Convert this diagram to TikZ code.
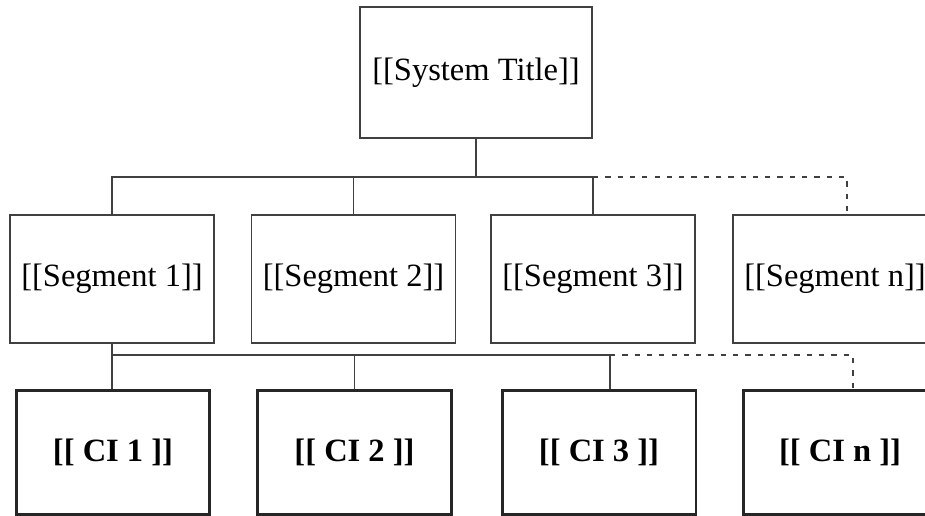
\documentclass[tikz,border=0pt]{standalone}
\usepackage{fontspec}
\setmainfont{Liberation Serif}
\begin{document}
\begin{tikzpicture}[x=0.02cm,y=-0.02cm,
	segbox/.style={draw=black!75,line width=0.7pt,minimum width=4.08cm,minimum height=2.56cm,inner sep=0pt,font=\fontsize{18.5}{22}\selectfont},
	cibox/.style={draw=black!85,line width=1.7pt,minimum width=3.88cm,minimum height=2.5cm,inner sep=0pt,font=\fontsize{18.5}{22}\selectfont\bfseries},
	link/.style={draw=black!75,line width=0.7pt},
	later/.style={link,dash pattern=on 3pt off 4pt}]
		\useasboundingbox (0,0) rectangle (925,516);
		\clip (0,0) rectangle (925,516);
		% set up nodes
		\node[segbox,minimum width=4.64cm,minimum height=2.62cm] (title) at (476,72.5) {[[System Title]]};
		\node[segbox] (seg1) at (112,279) {[[Segment 1]]};
		\node[segbox] (seg2) at (353.5,279) {[[Segment 2]]};
		\node[segbox] (seg3) at (593,279) {[[Segment 3]]};
		\node[segbox] (segn) at (835,279) {[[Segment n]]};
		\node[cibox] (ci1) at (113,452.5) {[[ CI 1 ]]};
		\node[cibox] (ci2) at (354.5,452.5) {[[ CI 2 ]]};
		\node[cibox] (ci3) at (599,452.5) {[[ CI 3 ]]};
		\node[cibox] (cin) at (840,452.5) {[[ CI n ]]};
		\coordinate (top) at (847,177);
		\coordinate (low) at (610,355);
		\coordinate (lown) at (853,355);
		% connect them
		\draw[link] (title.south) -- (title.south |- top);
		\draw[link] (seg1.north) |- (seg3.north |- top) -- (seg3.north);
		\draw[link] (seg2.north) -- (seg2.north |- top);
		\draw[later] (seg3.north |- top) -- (top) -- (top |- segn.north);
		\draw[link] (seg1.south) -- (seg1.south |- ci1.north);
		\draw[link] (seg1.south |- low) -- (low) -- (low |- ci3.north);
		\draw[link] (ci2.north |- low) -- (ci2.north);
		\draw[later] (low) -- (lown) -- (lown |- cin.north);
	\end{tikzpicture}
\end{document}
